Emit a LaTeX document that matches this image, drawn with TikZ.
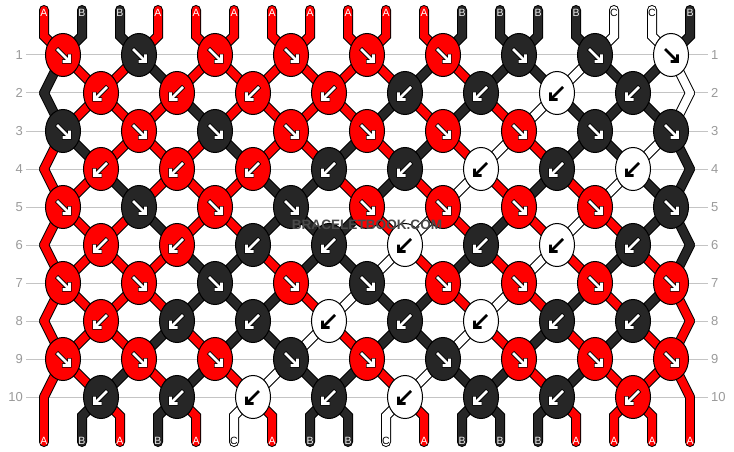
\documentclass[tikz,border=0pt]{standalone}
\usepackage{fontspec}
\setmainfont{Liberation Sans}
\setsansfont{Liberation Sans}
\usetikzlibrary{shapes.geometric}
\definecolor{cA}{HTML}{FF0000}
\definecolor{cB}{HTML}{262626}
\definecolor{cC}{HTML}{FFFFFF}
\definecolor{tA}{HTML}{FFFFFF}
\definecolor{tB}{HTML}{F0F0F0}
\definecolor{tC}{HTML}{000000}
\definecolor{aA}{HTML}{FFFFFF}
\definecolor{aB}{HTML}{FFFFFF}
\definecolor{aC}{HTML}{000000}
\definecolor{oA}{HTML}{000000}
\definecolor{oB}{HTML}{000000}
\definecolor{oC}{HTML}{FFFFFF}
\definecolor{gridgray}{HTML}{C4C4C4}
\definecolor{labgray}{HTML}{9A9A9A}
\definecolor{wmdark}{HTML}{4A4A4A}
\def\stlist{0/{A,B,B,A,A,A,A,A,A,A,A,B,B,B,B,C,C,B},%
1/{B,A,A,B,A,A,A,A,A,A,B,A,B,B,C,B,B,C},%
2/{B,A,A,A,B,A,A,A,A,B,A,B,A,C,B,B,B,C},%
3/{A,B,A,A,A,B,A,A,B,A,B,A,C,A,B,B,C,B},%
4/{A,A,B,A,A,A,B,B,A,B,A,C,A,B,A,C,B,B},%
5/{A,A,A,B,A,A,B,B,B,A,C,A,B,A,C,A,B,B},%
6/{A,A,A,A,B,B,A,B,B,C,A,B,A,C,A,B,A,B},%
7/{A,A,A,A,B,B,B,A,C,B,B,A,C,A,B,A,B,A},%
8/{A,A,A,B,A,B,B,C,A,B,B,C,A,B,A,B,A,A},%
9/{A,A,B,A,B,A,C,B,B,A,C,B,B,A,B,A,A,A},%
10/{A,B,A,B,A,C,A,B,B,C,A,B,B,B,A,A,A,A}}
\newcommand\strandpass[1]{%
  \foreach \r/\st in \stlist {%
    \pgfmathtruncatemacro\rr{\r+1}%
    \foreach \cl [count=\p] in \st {%
      \ifnum\r=0
        \draw[#1] (T-\p) -- (TB-\p) -- (P-1-\p);
      \else\ifnum\r=10
        \draw[#1] (P-10-\p) -- (BB-\p) -- (BE-\p);
      \else
        \draw[#1] (P-\r-\p) -- (P-\rr-\p);
      \fi\fi
    }%
  }%
}
\newcommand\drawknot[4]{%
  \node[knotshape, fill=c#3] (knot-#1-#2) at (P-#1-#2) {};
  \begin{scope}[shift={(P-#1-#2)}, xscale=#4]
    \draw[arrowout=#3] (-6.5,-6.5) -- (6,6) (6.5,-1) -- (6.5,6.5) -- (-1,6.5);
    \draw[arrowin=#3] (-6,-6) -- (6,6) (6.5,-0.5) -- (6.5,6.5) -- (-0.5,6.5);
  \end{scope}%
}
\begin{document}
\begin{tikzpicture}[x=1pt,y=-1pt,
  strandout/.style={draw=black, line width=10pt, line cap=round, line join=miter},
  strandin/.style={line width=8pt, line cap=round, line join=miter},
  knotshape/.style={ellipse, draw=black, line width=1pt, minimum width=35pt, minimum height=43pt, inner sep=0pt, outer sep=0pt},
  arrowout/.style={draw=o#1, line width=4.4pt, line join=miter, line cap=butt},
  arrowin/.style={draw=a#1, line width=2.6pt, line join=miter, line cap=butt},
  rowlab/.style={text=labgray, font=\fontsize{13}{13}\selectfont, inner sep=0pt},
  endlab/.style={font=\fontsize{10.5}{10.5}\selectfont, inner sep=0pt},
  gridline/.style={draw=gridgray, line width=1pt},
  wm/.style={font=\bfseries\fontsize{13.6}{13.6}\selectfont, inner sep=0pt}]
\fill[white] (0,0) rectangle (734,452);
\useasboundingbox (0,0) rectangle (734,452);
% coordinates of knots / edge vertices
\foreach \r in {1,...,10}{%
  \foreach \p in {1,...,18}{%
    \ifodd\r
      \pgfmathtruncatemacro\xx{63+76*floor((\p-1)/2)}%
    \else
      \ifnum\p=1 \def\xx{44}\else\ifnum\p=18 \def\xx{690}\else
        \pgfmathtruncatemacro\xx{101+76*floor((\p-2)/2)}\fi\fi
    \fi
    \coordinate (P-\r-\p) at (\xx,{17+38*\r});
  }%
}
\foreach \p in {1,...,18}{%
  \pgfmathtruncatemacro\xx{6+38*\p}%
  \coordinate (T-\p) at (\xx,10);
  \coordinate (TB-\p) at (\xx,36);
  \coordinate (BB-\p) at (\xx,416);
  \coordinate (BE-\p) at (\xx,442);
}
% grid lines and row numbers
\foreach \r in {1,...,10}{%
  \draw[gridline] (26,{17+38*\r}) -- (708,{17+38*\r});
  \node[rowlab, anchor=east] (ll-\r) at (23,{17+38*\r}) {\r};
  \node[rowlab, anchor=west] (rl-\r) at (711,{17+38*\r}) {\r};
}
% strands
\strandpass{strandout}
\strandpass{strandin,draw=c\cl}
% knots
\foreach \r/\st in \stlist {%
  \ifnum\r>0
  \foreach \cl [count=\p] in \st {%
    \ifodd\p\else
      \ifodd\r
        \drawknot{\r}{\p}{\cl}{1}%
      \else\ifnum\p<18
        \drawknot{\r}{\p}{\cl}{-1}%
      \fi\fi
    \fi
  }%
  \fi
}
% strand end labels
\foreach \cl [count=\p] in {A,B,B,A,A,A,A,A,A,A,A,B,B,B,B,C,C,B}{%
  \pgfmathtruncatemacro\xx{6+38*\p}%
  \node[endlab, text=t\cl] (top-\p) at (\xx,12.5) {\cl};
}
\foreach \cl [count=\p] in {A,B,A,B,A,C,A,B,B,C,A,B,B,B,A,A,A,A}{%
  \pgfmathtruncatemacro\xx{6+38*\p}%
  \node[endlab, text=t\cl] (bot-\p) at (\xx,441) {\cl};
}
% watermark
\node[wm, text=wmdark] (wm) at (367,225) {BRACELETBOOK.COM};
\end{tikzpicture}
\end{document}
